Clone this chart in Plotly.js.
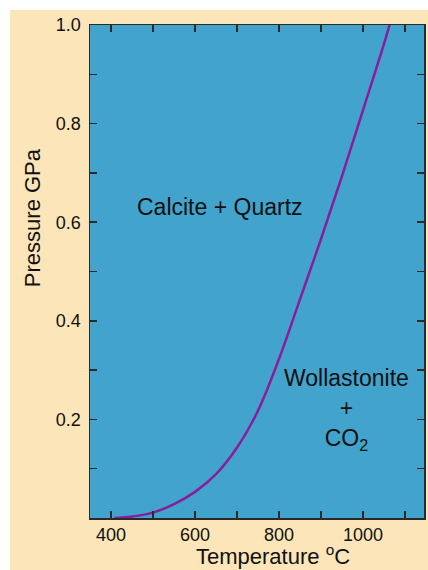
<!DOCTYPE html>
<html>
<head>
<meta charset="utf-8">
<script src="https://cdn.plot.ly/plotly-3.0.1.min.js"></script>
<style>
  html, body { margin: 0; padding: 0; background: #ffffff; overflow: hidden; }
  #chart { position: absolute; left: 10px; top: 10px; width: 418px; height: 560px; }
</style>
</head>
<body>
<div id="chart"></div>
<script>
// Reaction curve: Calcite + Quartz = Wollastonite + CO2
var temperatureC = [408, 450, 500, 550, 600, 650, 700, 750, 800, 850, 900, 950, 1000, 1050, 1063];
var pressureGPa  = [0.0, 0.003, 0.011, 0.028, 0.053, 0.089, 0.143, 0.218, 0.323, 0.444, 0.566, 0.694, 0.828, 0.962, 1.0];

var xTickVals = [400, 500, 600, 700, 800, 900, 1000, 1100];
var xTickText = ['400', '', '600', '', '800', '', '1000', ''];
var yTickVals = [0.1, 0.2, 0.3, 0.4, 0.5, 0.6, 0.7, 0.8, 0.9, 1.0];
var yTickText = ['', '0.2', '', '0.4', '', '0.6', '', '0.8', '', '1.0'];

var xTitle = 'Temperature <sup>o</sup>C';
var yTitle = 'Pressure GPa';
var fieldLow = 'Calcite + Quartz';
var fieldHigh = 'Wollastonite<br>+<br>CO<sub>2</sub>';

var font = 'Liberation Sans, Arial, Helvetica, sans-serif';

var trace = {
  x: temperatureC,
  y: pressureGPa,
  type: 'scatter',
  mode: 'lines',
  line: { color: '#8a1d9c', width: 2.5, shape: 'spline', smoothing: 1 },
  hoverinfo: 'skip',
  showlegend: false
};

var axisCommon = {
  showgrid: false,
  zeroline: false,
  showline: true,
  linecolor: '#2a2a2a',
  linewidth: 1.5,
  mirror: 'ticks',
  ticks: 'inside',
  ticklen: 7,
  tickwidth: 1.5,
  tickcolor: '#2a2a2a',
  tickmode: 'array',
  tickfont: { family: font, size: 18, color: '#111111' }
};

var layout = {
  width: 418,
  height: 560,
  margin: { l: 80, r: 4, t: 15, b: 52 },
  paper_bgcolor: '#fce5b8',
  plot_bgcolor: '#42a3cc',
  xaxis: Object.assign({}, axisCommon, {
    range: [350, 1145],
    tickvals: xTickVals,
    ticktext: xTickText
  }),
  yaxis: Object.assign({}, axisCommon, {
    range: [0, 1.0],
    tickvals: yTickVals,
    ticktext: yTickText,
    ticklabelstandoff: 4
  }),
  annotations: [
    { text: fieldLow, x: 660, y: 0.631, xref: 'x', yref: 'y', showarrow: false,
      xanchor: 'center', yanchor: 'middle',
      font: { family: font, size: 23, color: '#111111' } },
    { text: fieldHigh, x: 960, y: 0.221, xref: 'x', yref: 'y', showarrow: false,
      xanchor: 'center', yanchor: 'middle',
      font: { family: font, size: 23, color: '#111111' } },
    { text: xTitle, x: 0.548, y: -0.075, xref: 'paper', yref: 'paper', showarrow: false,
      xanchor: 'center', yanchor: 'middle',
      font: { family: font, size: 22, color: '#111111' } },
    { text: yTitle, x: -0.174, y: 0.61, xref: 'paper', yref: 'paper', showarrow: false,
      xanchor: 'center', yanchor: 'middle',
      textangle: -90, font: { family: font, size: 22, color: '#111111' } }
  ]
};

Plotly.newPlot('chart', [trace], layout, { staticPlot: true, displayModeBar: false });
</script>
</body>
</html>
